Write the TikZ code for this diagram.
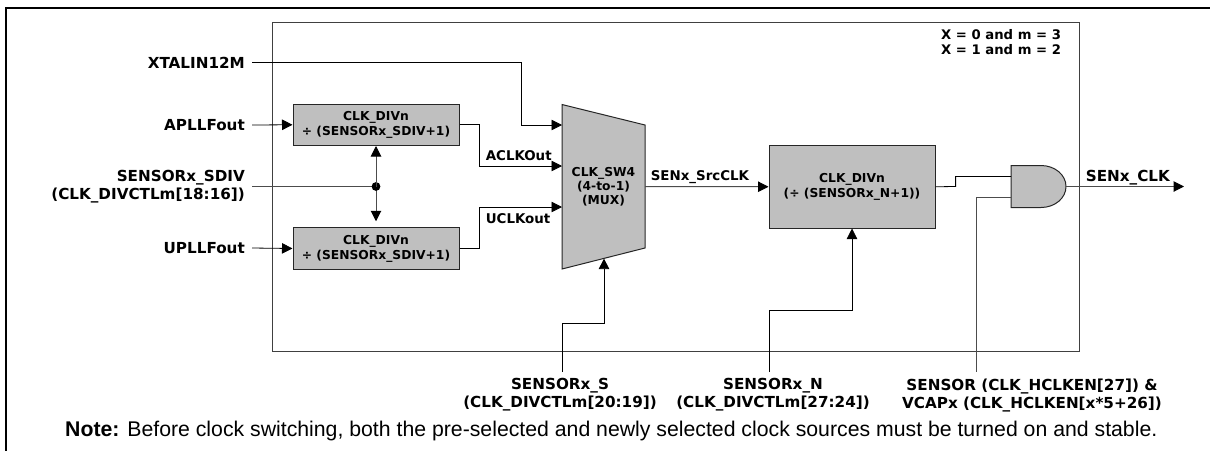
\documentclass[tikz,border=0pt]{standalone}
\usepackage{fontspec}
\setmainfont{DejaVu Sans}
\newfontfamily\notefont{Liberation Sans}
\usetikzlibrary{arrows.meta,calc,backgrounds}
\tikzset{
  wire/.style={line width=1pt,draw=black!70},
  thin wire/.style={line width=0.8pt,draw=black},
  arr/.style={-{Triangle[length=10.5pt,width=10.5pt,color=black]}},
  fbox/.style={draw=black!85,line width=1pt,fill=black!25,align=center,inner sep=0pt,font=\fontsize{12.3}{15}\selectfont\bfseries},
  lbl/.style={anchor=east,align=right,inner xsep=7pt,inner ysep=0pt,font=\fontsize{15.2}{18}\selectfont\bfseries},
  tag/.style={anchor=west,inner sep=0pt,font=\fontsize{13.4}{15}\selectfont\bfseries},
  btm/.style={anchor=north,align=center,inner sep=0pt,font=\fontsize{15.2}{18}\selectfont\bfseries},
}
\begin{document}
\begin{tikzpicture}[x=1pt,y=-1pt]
\useasboundingbox (0,0) rectangle (1210,451);
% frame
\coordinate (ftr) at (1210,7.5);
\coordinate (ftl) at (5.7,7.5);
\coordinate (fbl) at (5.7,451);
\draw[line width=2pt] (ftr) -- (ftl) -- (fbl);
% container
\node[draw=black!75,line width=0.9pt,minimum width=807.3pt,minimum height=329.5pt,inner sep=0pt] (cont) at (676.15,186.75) {};
\node[anchor=north west,align=left,inner sep=0pt,font=\fontsize{13.2}{15}\selectfont\bfseries] (xm) at (941,29) {X = 0 and m = 3\\X = 1 and m = 2};
% divider blocks
\node[fbox,minimum width=166pt,minimum height=41.5pt] (diva) at (376,124.75) {CLK\_DIVn\\÷ (SENSORx\_SDIV+1)};
\node[fbox,minimum width=166pt,minimum height=41.5pt] (divu) at (376,248.5) {CLK\_DIVn\\÷ (SENSORx\_SDIV+1)};
\node[fbox,minimum width=166pt,minimum height=82.5pt] (divn) at (852,186.75) {CLK\_DIVn\\(÷ (SENSORx\_N+1))};
% mux
\coordinate (mtl) at (562,104.5);
\coordinate (mtr) at (645,125);
\coordinate (mbr) at (645,248);
\coordinate (mbl) at (562,269);
\draw[draw=black!85,line width=1pt,fill=black!25] (mtl) -- (mtr) -- (mbr) -- (mbl) -- cycle;
\node[align=center,inner sep=0pt,font=\fontsize{12.3}{14}\selectfont\bfseries] (mux) at (603.5,186.5) {CLK\_SW4\\(4-to-1)\\(MUX)};
\coordinate (muxa) at (562,125);
\coordinate (muxb) at (562,166);
\coordinate (muxc) at (562,207);
\coordinate (muxo) at (645,186.5);
\coordinate (muxs) at (604,258.6);
% AND gate
\coordinate (gtl) at (1011,165.5);
\coordinate (gbl) at (1011,207.5);
\coordinate (gi) at (1011,176.5);
\coordinate (gj) at (1011,197);
\coordinate (go) at (1066,186.5);
\draw[draw=black!85,line width=1pt,fill=black!25] (gtl) -- (1041,165.5) .. controls (1055,165.5) and (1066,175) .. (go) .. controls (1066,198) and (1055,207.5) .. (1041,207.5) -- (gbl) -- cycle;
% labels
\node[lbl] (xtal) at (252,62.5) {XTALIN12M};
\node[lbl] (apll) at (252,125) {APLLFout};
\node[lbl] (sdiv) at (252,186.5) {SENSORx\_SDIV\\(CLK\_DIVCTLm[18:16])};
\node[lbl] (upll) at (252,248) {UPLLFout};
\node[tag] (aclk) at (485.6,156) {ACLKOut};
\node[tag] (uclk) at (485.6,218.5) {UCLKout};
\node[tag] (src) at (650.6,177) {SENx\_SrcCLK};
\node[tag,font=\fontsize{15.2}{15}\selectfont\bfseries] (sclk) at (1085.6,178) {SENx\_CLK};
\node[btm] (ss) at (560,378.5) {SENSORx\_S\\(CLK\_DIVCTLm[20:19])};
\node[btm] (sn) at (773,378.5) {SENSORx\_N\\(CLK\_DIVCTLm[27:24])};
\node[btm] (se) at (1032,378.5) {SENSOR (CLK\_HCLKEN[27]) \&\\VCAPx (CLK\_HCLKEN[x*5+26])};
\node[anchor=west,inner sep=0pt,font=\notefont\fontsize{21.25}{22}\selectfont] (note) at (65,431) {\textbf{Note:} Before clock switching, both the pre-selected and newly selected clock sources must be turned on and stable.};
% connector end points
\coordinate (ssb) at (562,372);
\coordinate (snb) at (769,372);
\coordinate (seb) at (976,372);
\coordinate (out) at (1184,186.5);
\coordinate (dot) at (376,186.5);
% connectors
\draw[thin wire,arr] (xtal.east) -| (521,125) -- (muxa);
\draw[thin wire,arr] (apll.east) -- (diva.west);
\draw[thin wire,arr] (upll.east) -- (divu.west);
\draw[wire] (sdiv.east) -- (dot);
\fill (dot) circle (4.4pt);
\draw[wire,arr] (dot) -- (diva.south);
\begin{scope}[on background layer]
\draw[wire,arr] (dot) -- ([yshift=6pt]divu.north);
\end{scope}
\draw[thin wire,arr] (diva.east) -| (479.5,166) -- (muxb);
\draw[thin wire,arr] (divu.east) -| (479.5,207) -- (muxc);
\draw[wire,arr] (muxo) -- (divn.west);
\draw[thin wire] (divn.east) -- (955.6,186.5) |- (gi);
\draw[wire] (gj) -| (seb);
\draw[wire,arr] (go) -- (out);
\draw[thin wire,arr] (ssb) |- (604,323) -- (muxs);
\draw[thin wire,arr] (snb) |- (852,310) -- (divn.south);
\end{tikzpicture}
\end{document}
